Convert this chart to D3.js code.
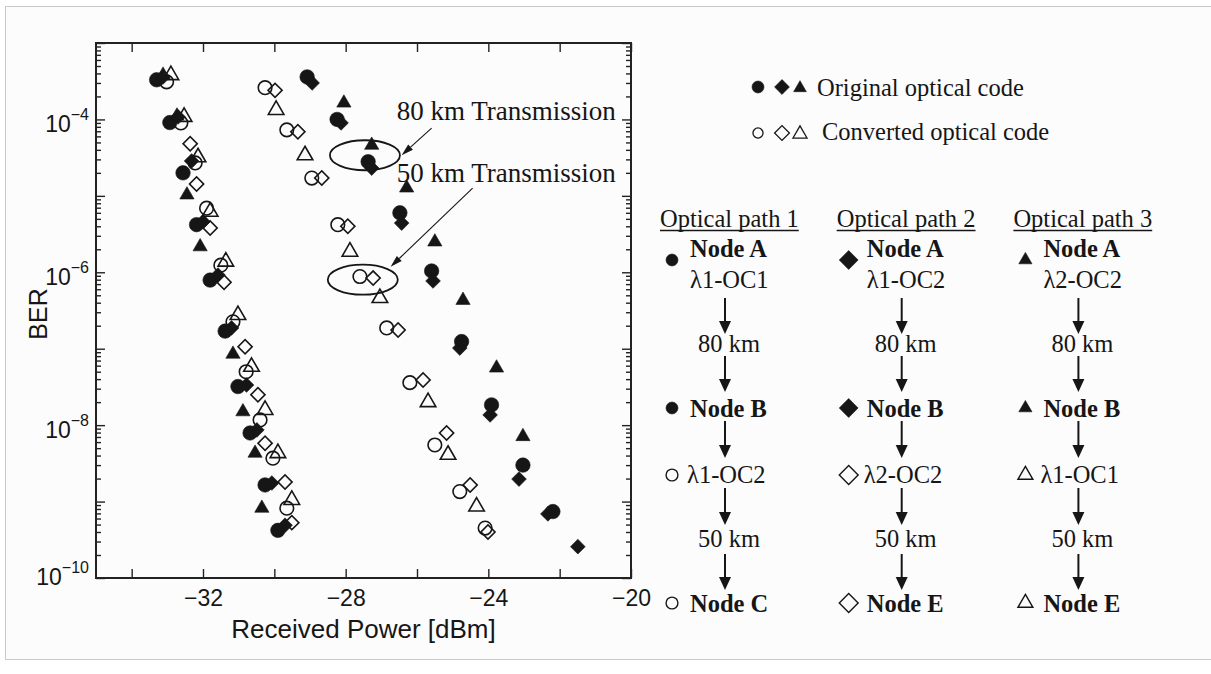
<!DOCTYPE html>
<html>
<head>
<meta charset="utf-8">
<script src="https://cdn.jsdelivr.net/npm/d3@7"></script>
<style>
  body { margin: 0; background: #fff; }
</style>
</head>
<body>
<div id="wrapper"></div>
<script>
// [received power (dBm), BER]  -- left cluster is back-to-back, right one after transmission
const origCircle = [
  [-33.30, 3.3e-4], [-32.93, 9.1e-5], [-32.56, 2.0e-5], [-32.18, 4.2e-6], [-31.80, 7.9e-7],
  [-31.38, 1.7e-7], [-31.02, 3.2e-8], [-30.68, 7.9e-9], [-30.26, 1.65e-9], [-29.90, 4.2e-10],
  [-29.08, 3.6e-4], [-28.24, 1.0e-4], [-27.37, 2.8e-5], [-26.48, 6.0e-6], [-25.59, 1.04e-6],
  [-24.75, 1.24e-7], [-23.91, 1.84e-8], [-23.03, 3.0e-9], [-22.19, 7.4e-10]
]
const origDiamond = [
  [-33.12, 3.6e-4], [-32.70, 1.08e-4], [-32.32, 2.86e-5], [-32.00, 4.6e-6], [-31.58, 9.2e-7],
  [-31.20, 1.87e-7], [-30.78, 3.35e-8], [-30.49, 8.65e-9], [-30.07, 1.75e-9], [-29.70, 4.9e-10],
  [-28.94, 3.0e-4], [-28.13, 9.0e-5], [-27.27, 2.31e-5], [-26.43, 4.4e-6], [-25.55, 7.7e-7],
  [-24.80, 1.02e-7], [-23.95, 1.36e-8], [-23.14, 1.97e-9], [-22.33, 6.9e-10], [-21.49, 2.57e-10]
]
const origTriangle = [
  [-33.12, 3.8e-4], [-32.73, 1.11e-4], [-32.45, 1.03e-5], [-32.08, 2.16e-6], [-31.16, 8.5e-8],
  [-30.88, 1.5e-8], [-30.54, 4.3e-9], [-30.35, 8.2e-10],
  [-28.05, 1.64e-4], [-27.27, 4.6e-5], [-26.29, 1.27e-5], [-25.50, 2.5e-6], [-24.71, 4.3e-7],
  [-23.77, 5.6e-8], [-23.03, 7.1e-9]
]
const convCircle = [
  [-33.02, 3.1e-4], [-32.62, 9.0e-5], [-32.22, 2.7e-5], [-31.90, 6.9e-6], [-31.50, 1.24e-6],
  [-31.16, 2.25e-7], [-30.79, 5.0e-8], [-30.40, 1.17e-8], [-30.04, 3.7e-9], [-29.65, 8.2e-10],
  [-30.26, 2.6e-4], [-29.65, 7.3e-5], [-28.95, 1.71e-5], [-28.22, 4.2e-6], [-27.60, 8.8e-7],
  [-26.85, 1.87e-7], [-26.20, 3.6e-8], [-25.50, 5.5e-9], [-24.80, 1.35e-9], [-24.09, 4.5e-10]
]
const convDiamond = [
  [-32.36, 4.8e-5], [-32.18, 1.43e-5], [-31.80, 3.8e-6], [-31.41, 7.4e-7], [-30.82, 1.06e-7],
  [-30.46, 2.5e-8], [-30.26, 5.8e-9], [-29.70, 1.8e-9], [-29.51, 5.3e-10],
  [-29.98, 2.4e-4], [-29.34, 6.9e-5], [-28.67, 1.71e-5], [-27.94, 4.0e-6], [-27.23, 8.4e-7],
  [-26.53, 1.76e-7], [-25.83, 3.9e-8], [-25.17, 7.9e-9], [-24.51, 1.65e-9], [-24.01, 4.0e-10]
]
const convTriangle = [
  [-32.90, 3.8e-4], [-32.53, 1.08e-4], [-32.14, 3.2e-5], [-31.80, 6.2e-6], [-31.36, 1.38e-6],
  [-31.02, 2.76e-7], [-30.64, 5.8e-8], [-30.26, 1.58e-8], [-29.90, 4.3e-9], [-29.51, 1.05e-9],
  [-29.95, 1.33e-4], [-29.14, 3.4e-5], [-27.88, 1.86e-6], [-27.04, 4.6e-7], [-25.69, 2.0e-8],
  [-25.13, 4.1e-9], [-24.33, 8.6e-10]
]

// axis ticks
const powerTicks = [-34, -32, -30, -28, -26, -24, -22, -20]
const powerLabels = [-32, -28, -24, -20]
const berExponents = [-10, -9, -8, -7, -6, -5, -4]
const berLabels = [-10, -8, -6, -4]

// callouts: text anchor, ellipse center, arrow from -> to
const callouts = [
  { text: "80 km Transmission", at: [-26.57, 9.8e-5], ellipse: [-27.46, 3.4e-5], from: [-25.59, 7.7e-5], to: [-26.43, 3.4e-5] },
  { text: "50 km Transmission", at: [-26.57, 1.53e-5], ellipse: [-27.52, 8.0e-7], from: [-24.44, 1.26e-5], to: [-26.74, 1.18e-6] },
]

// right hand side diagram
const pathTitles = ["Optical path 1", "Optical path 2", "Optical path 3"]
const pathShapes = ["circle", "diamond", "triangle"]
const firstCodes = ["λ1-OC1", "λ1-OC2", "λ2-OC2"]
const convertedCodes = ["λ1-OC2", "λ2-OC2", "λ1-OC1"]
const endNodes = ["Node C", "Node E", "Node E"]
const spans = ["80 km", "50 km"]
const legendLabels = ["Original optical code", "Converted optical code"]


const width = 1211
const height = 674
const ink = "#161616"
const sansFont = "'Liberation Sans', Arial, Helvetica, sans-serif"
const serifFont = "'Liberation Serif', 'Times New Roman', serif"

const svg = d3.select("#wrapper")
  .append("svg")
    .attr("width", width)
    .attr("height", height)

// faint page frame
svg.append("rect")
    .attr("x", 5.5)
    .attr("y", 6.5)
    .attr("width", 1210)
    .attr("height", 653)
    .attr("fill", "#fcfcfc")
    .attr("stroke", "#c9c9c9")

const plot = { left: 96, right: 631, top: 43, bottom: 578 }

const xScale = d3.scaleLinear()
  .domain([-35, -20])
  .range([plot.left, plot.right])

const yScale = d3.scaleLog()
  .domain([1e-10, 1e-3])
  .range([plot.bottom, plot.top])

// symbol helpers
function shapePath(shape, size) {
  if (shape === "circle") return d3.symbol(d3.symbolCircle, size)()
  if (shape === "diamond") return d3.symbol(d3.symbolSquare, size)()
  return d3.symbol(d3.symbolTriangle, size)()
}
function drawShape(g, shape, filled, size, x, y, sw) {
  g.append("path")
    .attr("d", shapePath(shape, size))
    .attr("transform", `translate(${x},${y})` + (shape === "diamond" ? " rotate(45)" : ""))
    .attr("fill", filled ? ink : "none")
    .attr("stroke", ink)
    .attr("stroke-width", filled ? 0.6 : (sw || 1.6))
}

// axes
const axisColor = "#222"
const axes = svg.append("g").attr("color", axisColor)

const yTickValues = []
berExponents.forEach(e => {
  for (let m = 1; m <= 9; m++) yTickValues.push(m * Math.pow(10, e))
})
yTickValues.push(1e-3)
const isDecade = d => Math.abs(Math.log10(d) - Math.round(Math.log10(d))) < 1e-6

const bottomAxis = axes.append("g")
    .attr("transform", `translate(0,${plot.bottom})`)
    .call(d3.axisBottom(xScale)
      .tickValues(powerTicks)
      .tickSize(-9)
      .tickPadding(12)
      .tickFormat(d => powerLabels.includes(d) ? d3.format("d")(d) : ""))
bottomAxis.attr("font-family", sansFont).attr("font-size", 23)
bottomAxis.selectAll("text").attr("fill", ink)

axes.append("g")
    .attr("transform", `translate(0,${plot.top})`)
    .call(d3.axisTop(xScale).tickValues(powerTicks).tickSize(-9).tickFormat(""))

const leftAxis = axes.append("g")
    .attr("transform", `translate(${plot.left},0)`)
    .call(d3.axisLeft(yScale).tickValues(yTickValues).tickSize(-5).tickFormat(""))
leftAxis.selectAll(".tick line").attr("x2", d => isDecade(d) ? 9 : 5)

const rightAxis = axes.append("g")
    .attr("transform", `translate(${plot.right},0)`)
    .call(d3.axisRight(yScale).tickValues(yTickValues).tickSize(-5).tickFormat(""))
rightAxis.selectAll(".tick line").attr("x2", d => isDecade(d) ? -9 : -5)

axes.selectAll(".domain").remove()
axes.selectAll(".tick line").attr("stroke-width", 1.4)

axes.append("rect")
    .attr("x", plot.left)
    .attr("y", plot.top)
    .attr("width", plot.right - plot.left)
    .attr("height", plot.bottom - plot.top)
    .attr("fill", "none")
    .attr("stroke", axisColor)
    .attr("stroke-width", 2)

// y tick labels 10^n
berLabels.forEach(e => {
  const t = svg.append("text")
      .attr("x", plot.left - 7)
      .attr("y", yScale(Math.pow(10, e)) + (e === -10 ? 7 : 13))
      .attr("text-anchor", "end")
      .attr("font-family", sansFont)
      .attr("font-size", 23)
      .attr("fill", ink)
  t.append("tspan").text("10")
  t.append("tspan")
      .attr("dy", -12)
      .attr("font-size", 16)
      .text("\u2212" + Math.abs(e))
})

svg.append("text")
    .attr("x", (plot.left + plot.right) / 2)
    .attr("y", 638)
    .attr("text-anchor", "middle")
    .attr("font-family", sansFont)
    .attr("font-size", 26)
    .attr("fill", ink)
    .text("Received Power [dBm]")

svg.append("text")
    .attr("transform", `translate(47,314) rotate(-90)`)
    .attr("text-anchor", "middle")
    .attr("font-family", sansFont)
    .attr("font-size", 25)
    .attr("fill", ink)
    .text("BER")

// scatter marks
const seriesList = [
  { data: convCircle, shape: "circle", filled: false, size: 145 },
  { data: convDiamond, shape: "diamond", filled: false, size: 100 },
  { data: convTriangle, shape: "triangle", filled: false, size: 105 },
  { data: origCircle, shape: "circle", filled: true, size: 165 },
  { data: origDiamond, shape: "diamond", filled: true, size: 108 },
  { data: origTriangle, shape: "triangle", filled: true, size: 88 },
]

const marks = svg.append("g")
seriesList.forEach(s => {
  marks.selectAll(null)
      .data(s.data)
    .enter()
      .append("path")
        .attr("d", shapePath(s.shape, s.size))
        .attr("transform", d => `translate(${xScale(d[0])},${yScale(d[1])})` + (s.shape === "diamond" ? " rotate(45)" : ""))
        .attr("fill", s.filled ? ink : "none")
        .attr("stroke", ink)
        .attr("stroke-width", s.filled ? 0.6 : 1.6)
})

// arrows
function arrow(g, x1, y1, x2, y2, headLen, headW, lw) {
  const a = Math.atan2(y2 - y1, x2 - x1)
  const bx = x2 - headLen * Math.cos(a)
  const by = y2 - headLen * Math.sin(a)
  g.append("line")
      .attr("x1", x1).attr("y1", y1)
      .attr("x2", bx).attr("y2", by)
      .attr("stroke", ink)
      .attr("stroke-width", lw)
  const px = -Math.sin(a) * headW / 2
  const py = Math.cos(a) * headW / 2
  g.append("path")
      .attr("d", `M${x2},${y2}L${bx + px},${by + py}L${bx - px},${by - py}Z`)
      .attr("fill", ink)
}

// callouts
const notes = svg.append("g")
callouts.forEach(c => {
  notes.append("ellipse")
      .attr("cx", xScale(c.ellipse[0]))
      .attr("cy", yScale(c.ellipse[1]))
      .attr("rx", 35)
      .attr("ry", 15)
      .attr("fill", "none")
      .attr("stroke", ink)
      .attr("stroke-width", 1.8)
  arrow(notes, xScale(c.from[0]), yScale(c.from[1]), xScale(c.to[0]), yScale(c.to[1]), 12, 7, 1.1)
  notes.append("text")
      .attr("x", xScale(c.at[0]))
      .attr("y", yScale(c.at[1]))
      .attr("font-family", serifFont)
      .attr("font-size", 27)
      .attr("fill", ink)
      .text(c.text)
})

// legend
const legend = svg.append("g")
const legendRows = [
  { filled: true, y: 87, textX: 817, baseline: 96 },
  { filled: false, y: 133, textX: 822, baseline: 140 },
]
legendRows.forEach((row, r) => {
  drawShape(legend, "circle", row.filled, row.filled ? 113 : 80, 758, row.y, 1.3)
  drawShape(legend, "diamond", row.filled, 110, 782, row.y, 1.3)
  drawShape(legend, "triangle", row.filled, row.filled ? 70 : 85, 800, row.y + 1, 1.3)
  legend.append("text")
      .attr("x", row.textX)
      .attr("y", row.baseline)
      .attr("font-family", serifFont)
      .attr("font-size", 24.5)
      .attr("fill", ink)
      .text(legendLabels[r])
})

// optical path diagram
const diagram = svg.append("g")
  .attr("font-family", serifFont)
  .attr("font-size", 24.5)
  .attr("fill", ink)

const symSizes = { circle: 113, diamond: 178, triangle: 75 }
const openSizes = { circle: 110, diamond: 178, triangle: 97 }

pathTitles.forEach((title, i) => {
  const ax = 725 + i * 176.7
  const symX = ax - 53
  const textX = ax - 35
  const shape = pathShapes[i]

  const tt = diagram.append("text")
      .attr("x", ax - 65)
      .attr("y", 227)
      .text(title)
  const tw = tt.node().getComputedTextLength()
  diagram.append("line")
      .attr("x1", ax - 65).attr("x2", ax - 65 + tw)
      .attr("y1", 230.5).attr("y2", 230.5)
      .attr("stroke", ink)
      .attr("stroke-width", 1.4)

  drawShape(diagram, shape, true, symSizes[shape], symX, 260)
  diagram.append("text")
      .attr("x", textX).attr("y", 257)
      .attr("font-weight", "bold")
      .text("Node A")
  diagram.append("text")
      .attr("x", textX).attr("y", 288)
      .text(firstCodes[i])

  arrow(diagram, ax, 298, ax, 334, 13, 12, 2)
  diagram.append("text")
      .attr("x", ax + 4).attr("y", 352)
      .attr("text-anchor", "middle")
      .text(spans[0])
  arrow(diagram, ax, 356, ax, 392, 13, 12, 2)

  drawShape(diagram, shape, true, symSizes[shape], symX, 408)
  diagram.append("text")
      .attr("x", textX).attr("y", 417)
      .attr("font-weight", "bold")
      .text("Node B")

  arrow(diagram, ax, 421, ax, 458, 13, 12, 2)
  drawShape(diagram, shape, false, openSizes[shape], symX, 475, 1.4)
  diagram.append("text")
      .attr("x", textX - 3).attr("y", 483)
      .text(convertedCodes[i])

  arrow(diagram, ax, 488, ax, 525, 13, 12, 2)
  diagram.append("text")
      .attr("x", ax + 4).attr("y", 547)
      .attr("text-anchor", "middle")
      .text(spans[1])
  arrow(diagram, ax, 554, ax, 590, 13, 12, 2)

  drawShape(diagram, shape, false, openSizes[shape], symX, 603, 1.4)
  diagram.append("text")
      .attr("x", textX).attr("y", 612)
      .attr("font-weight", "bold")
      .text(endNodes[i])
})
</script>
</body>
</html>
